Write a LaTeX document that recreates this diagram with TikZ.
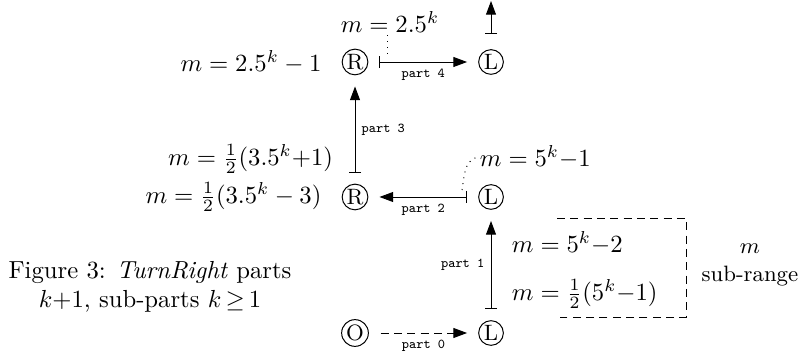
\documentclass[tikz,border=0pt]{standalone}
\usetikzlibrary{arrows.meta, positioning}

\begin{document}
\begin{tikzpicture}[
    x=0.01424cm, y=-0.01424cm,
    st/.style={circle, draw, inner sep=0.4pt, minimum size=10pt, font=\small},
    lab/.style={inner sep=1pt},
    part/.style={{Bar[width=5pt]}-{Triangle[length=5.5pt,width=4pt]}, shorten <=4.5pt, shorten >=4.5pt},
    plab/.style={font=\fontsize{5.5}{6}\selectfont\ttfamily, inner sep=2.5pt},
    dashes/.style={dash pattern=on 3.2pt off 2.2pt}
]
\useasboundingbox (0,0) rectangle (802,356);

% states
\node[st] (R4) at (355,62) {R};
\node[st] (L4) at (491,62) {L};
\node[st] (R2) at (355,197) {R};
\node[st] (L2) at (491,197) {L};
\node[st] (O0) at (355,333) {O};
\node[st] (L0) at (491,333) {L};
\coordinate (up) at (491,1);

% parts
\draw[part, dashes, {Bar[width=0pt]}-{Triangle[length=5.5pt,width=4pt]}] (O0) -- node[plab, below] {part 0} (L0);
\draw[part] (L0) -- node[plab, left] {part 1} (L2);
\draw[part] (L2) -- node[plab, below] {part 2} (R2);
\draw[part] (R2) -- node[plab, right] {part 3} (R4);
\draw[part] (R4) -- node[plab, below] {part 4} (L4);
\draw[part, shorten <=6pt, shorten >=0pt] (L4) -- (up);

% values of m
\node[lab, left=7pt of R4] (m4lo) {$m = 2.5^k - 1$};
\node[lab] (m4hi) at (390,22) {$m = 2.5^k$};
\node[lab, anchor=east] (m3) at (336,159) {$m = \frac{1}{2}(3.5^k{+}1)$};
\node[lab, left=7pt of R2] (m2) {$m = \frac{1}{2}(3.5^k - 3)$};
\node[lab, anchor=west] (m2r) at (477,157) {$m = 5^k{-}1$};
\node[lab, anchor=west] (m1hi) at (509,243) {$m = 5^k{-}2$};
\node[lab, anchor=west] (m1lo) at (509,294) {$m = \frac{1}{2}(5^k{-}1)$};

\coordinate (p4) at (387,56);
\coordinate (p2) at (462,190);
\draw[dotted] (m4hi.south -| p4) -- (p4);
\draw[dotted] (p2) to[out=80, in=200] (m2r.west);

% sub-range box
\draw[dashes] (557,218) -- (686,218) -- (686,317) -- (557,317);
\node[lab, align=center, font=\small] (subr) at (750,265) {$m$\\sub-range};

% caption
\node[align=center] (cap) at (150,287) {Figure 3: \textit{TurnRight} parts\\$k{+}1$, sub-parts $k\,{\geq}\,1$};
\end{tikzpicture}
\end{document}
